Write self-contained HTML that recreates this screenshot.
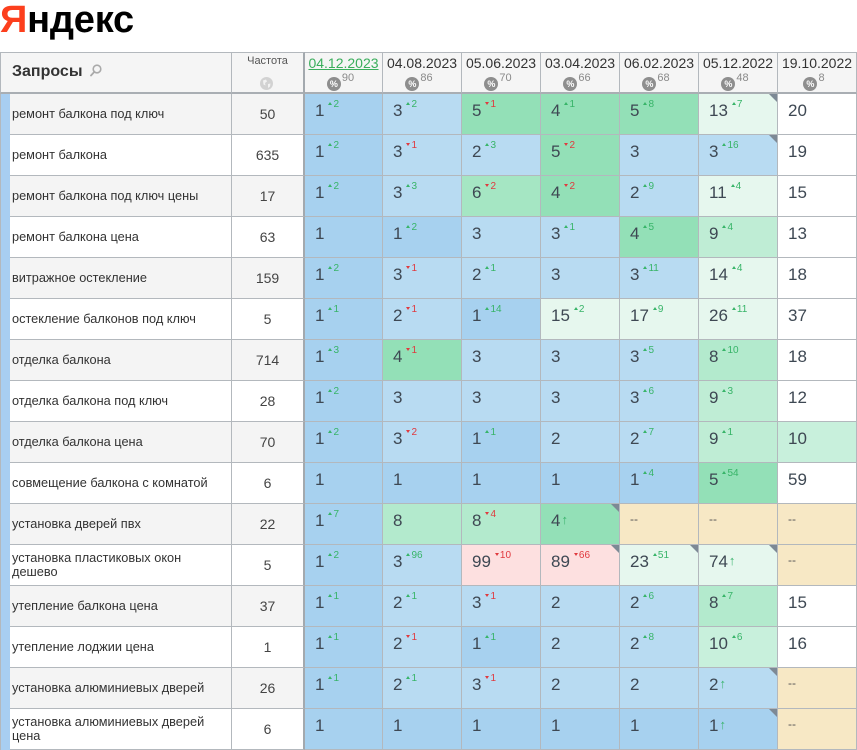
<!DOCTYPE html>
<html><head><meta charset="utf-8"><style>
html,body{margin:0;padding:0}
body{width:857px;height:750px;overflow:hidden;background:#fff;position:relative;font-family:"Liberation Sans","DejaVu Sans",sans-serif}
.logo{position:absolute;left:0;top:1px;font-size:38px;line-height:38px;font-weight:bold;color:#000;letter-spacing:-0.2px;white-space:nowrap}
.logo span{color:#fc3f1d}
.grid{position:absolute;left:0;top:52px;display:grid;grid-template-columns:232px 73px 78px repeat(6,79px);grid-template-rows:42px repeat(16,41px)}
.grid>div{box-sizing:border-box;border-right:1px solid #b3b8bd;border-bottom:1px solid #b3b8bd;position:relative;overflow:hidden}
.grid>div.h{background:#f5f5f5;border-top:1px solid #b3b8bd;border-bottom:2px solid #a9aeb3}
.q{border-left:1px solid #b3b8bd;padding-left:11px;font-size:12.75px;color:#333;display:flex;align-items:center;line-height:14px;white-space:nowrap}
.grid>div.f{border-right:2px solid #a3a9ae}
.f{text-align:center;font-size:14px;line-height:40px;color:#444}
.o{background:#f4f4f4}
.qh{position:absolute;left:11px;top:10px;font-size:16px;font-weight:bold;color:#333;line-height:18px;white-space:nowrap}
.qi{position:absolute;left:89px;top:11px;width:12px;height:13px}
.ft{position:absolute;left:0;right:0;top:2px;font-size:11px;line-height:13px;color:#555;text-align:center}
.gl{position:absolute;left:28px;top:24px;width:13px;height:13px}
.dh{text-align:center;font-size:14px;line-height:16px;color:#333;padding-top:2px}
.dh .t1{color:#3aae5c;text-decoration:underline}
.bdr{height:14px;margin-top:6px;line-height:14px;white-space:nowrap;padding-right:6px}
.bd{display:inline-block;width:14px;height:14px;border-radius:50%;background:#8e8e8e;color:#fff;font-size:9px;font-weight:bold;line-height:14px;text-align:center;vertical-align:top}
.bn{font-size:11px;color:#8a8a8a;position:relative;top:-6px;margin-left:1px;vertical-align:top}
.d{padding:4px 0 0 10px;font-size:17px;line-height:26px;color:#3e4853;white-space:nowrap}
.d i{font-style:normal;font-size:10px;position:relative;top:-9px;margin-left:4px}
.d i.u{color:#37b468}
.d i.r{color:#e0393e}
.d i.u::before{content:"";display:inline-block;width:0;height:0;border-left:2px solid transparent;border-right:2px solid transparent;border-bottom:3px solid #37b468;margin-right:1px;vertical-align:2px}
.d i.r::before{content:"";display:inline-block;width:0;height:0;border-left:2px solid transparent;border-right:2px solid transparent;border-top:3px solid #e0393e;margin-right:1px;vertical-align:2px}
.d b{font-weight:normal;font-size:13px;color:#3cb46e;position:relative;top:-2px;margin-left:1px}
.d s{text-decoration:none;font-size:12px;color:#555;position:relative;top:-3px}
.c::after{content:"";position:absolute;top:0;right:0;width:0;height:0;border-top:8px solid #7d8995;border-left:8px solid transparent}
.b1{background:#a7d1ef}
.b2{background:#b8dbf2}
.g4{background:#93e0b7}
.g6{background:#a5e6c3}
.g8{background:#b3eacd}
.g9{background:#bfedd5}
.g10{background:#c8f0dc}
.g11{background:#e6f7ee}
.pk{background:#fde0e0}
.be{background:#f7e8c5}
.w{background:#fff}
.strip{position:absolute;left:1px;top:94px;width:9px;height:656px;background:#a8cef1;z-index:3}
</style></head><body>
<div class="logo"><span>Я</span>ндекс</div>
<div class="strip"></div>
<div class="grid">
<div class="h q"><span class="qh">Запросы</span><svg class="qi" width="12" height="13" viewBox="0 0 12 13"><circle cx="7" cy="5" r="3.8" fill="none" stroke="#aaa" stroke-width="1.6"/><line x1="4.2" y1="8" x2="1" y2="11.5" stroke="#aaa" stroke-width="1.8" stroke-linecap="round"/></svg></div>
<div class="h f"><div class="ft">Частота</div><svg class="gl" width="13" height="13" viewBox="0 0 13 13"><circle cx="6.5" cy="6.5" r="6.5" fill="#d2d2d2"/><path d="M3 3.5 L6 2.5 L7 4.5 L5 6 L5.5 8.5 L3.5 7.5 Z M8 7 L10.5 6.5 L10 9.5 L8 11 Z" fill="#f2f2f2"/></svg></div>
<div class="h dh"><span class="t1">04.12.2023</span><div class="bdr"><span class="bd">%</span><span class="bn">90</span></div></div>
<div class="h dh">04.08.2023<div class="bdr"><span class="bd">%</span><span class="bn">86</span></div></div>
<div class="h dh">05.06.2023<div class="bdr"><span class="bd">%</span><span class="bn">70</span></div></div>
<div class="h dh">03.04.2023<div class="bdr"><span class="bd">%</span><span class="bn">66</span></div></div>
<div class="h dh">06.02.2023<div class="bdr"><span class="bd">%</span><span class="bn">68</span></div></div>
<div class="h dh">05.12.2022<div class="bdr"><span class="bd">%</span><span class="bn">48</span></div></div>
<div class="h dh">19.10.2022<div class="bdr"><span class="bd">%</span><span class="bn">8</span></div></div>

<div class="q o">ремонт балкона под ключ</div><div class="f o">50</div>
<div class="d b1">1<i class="u">2</i></div><div class="d b2">3<i class="u">2</i></div><div class="d g4">5<i class="r">1</i></div><div class="d g4">4<i class="u">1</i></div><div class="d g4">5<i class="u">8</i></div><div class="d g11 c">13<i class="u">7</i></div><div class="d w">20</div>

<div class="q">ремонт балкона</div><div class="f">635</div>
<div class="d b1">1<i class="u">2</i></div><div class="d b2">3<i class="r">1</i></div><div class="d b2">2<i class="u">3</i></div><div class="d g4">5<i class="r">2</i></div><div class="d b2">3</div><div class="d b2 c">3<i class="u">16</i></div><div class="d w">19</div>

<div class="q o">ремонт балкона под ключ цены</div><div class="f o">17</div>
<div class="d b1">1<i class="u">2</i></div><div class="d b2">3<i class="u">3</i></div><div class="d g6">6<i class="r">2</i></div><div class="d g4">4<i class="r">2</i></div><div class="d b2">2<i class="u">9</i></div><div class="d g11">11<i class="u">4</i></div><div class="d w">15</div>

<div class="q">ремонт балкона цена</div><div class="f">63</div>
<div class="d b1">1</div><div class="d b1">1<i class="u">2</i></div><div class="d b2">3</div><div class="d b2">3<i class="u">1</i></div><div class="d g4">4<i class="u">5</i></div><div class="d g9">9<i class="u">4</i></div><div class="d w">13</div>

<div class="q o">витражное остекление</div><div class="f o">159</div>
<div class="d b1">1<i class="u">2</i></div><div class="d b2">3<i class="r">1</i></div><div class="d b2">2<i class="u">1</i></div><div class="d b2">3</div><div class="d b2">3<i class="u">11</i></div><div class="d g11">14<i class="u">4</i></div><div class="d w">18</div>

<div class="q">остекление балконов под ключ</div><div class="f">5</div>
<div class="d b1">1<i class="u">1</i></div><div class="d b2">2<i class="r">1</i></div><div class="d b1">1<i class="u">14</i></div><div class="d g11">15<i class="u">2</i></div><div class="d g11">17<i class="u">9</i></div><div class="d g11">26<i class="u">11</i></div><div class="d w">37</div>

<div class="q o">отделка балкона</div><div class="f o">714</div>
<div class="d b1">1<i class="u">3</i></div><div class="d g4">4<i class="r">1</i></div><div class="d b2">3</div><div class="d b2">3</div><div class="d b2">3<i class="u">5</i></div><div class="d g8">8<i class="u">10</i></div><div class="d w">18</div>

<div class="q">отделка балкона под ключ</div><div class="f">28</div>
<div class="d b1">1<i class="u">2</i></div><div class="d b2">3</div><div class="d b2">3</div><div class="d b2">3</div><div class="d b2">3<i class="u">6</i></div><div class="d g9">9<i class="u">3</i></div><div class="d w">12</div>

<div class="q o">отделка балкона цена</div><div class="f o">70</div>
<div class="d b1">1<i class="u">2</i></div><div class="d b2">3<i class="r">2</i></div><div class="d b1">1<i class="u">1</i></div><div class="d b2">2</div><div class="d b2">2<i class="u">7</i></div><div class="d g9">9<i class="u">1</i></div><div class="d g10">10</div>

<div class="q">совмещение балкона с комнатой</div><div class="f">6</div>
<div class="d b1">1</div><div class="d b1">1</div><div class="d b1">1</div><div class="d b1">1</div><div class="d b1">1<i class="u">4</i></div><div class="d g4">5<i class="u">54</i></div><div class="d w">59</div>

<div class="q o">установка дверей пвх</div><div class="f o">22</div>
<div class="d b1">1<i class="u">7</i></div><div class="d g8">8</div><div class="d g8">8<i class="r">4</i></div><div class="d g4 c">4<b>↑</b></div><div class="d be"><s>--</s></div><div class="d be"><s>--</s></div><div class="d be"><s>--</s></div>

<div class="q">установка пластиковых окон<br>дешево</div><div class="f">5</div>
<div class="d b1">1<i class="u">2</i></div><div class="d b2">3<i class="u">96</i></div><div class="d pk">99<i class="r">10</i></div><div class="d pk c">89<i class="r">66</i></div><div class="d g11 c">23<i class="u">51</i></div><div class="d g11 c">74<b>↑</b></div><div class="d be"><s>--</s></div>

<div class="q o">утепление балкона цена</div><div class="f o">37</div>
<div class="d b1">1<i class="u">1</i></div><div class="d b2">2<i class="u">1</i></div><div class="d b2">3<i class="r">1</i></div><div class="d b2">2</div><div class="d b2">2<i class="u">6</i></div><div class="d g8">8<i class="u">7</i></div><div class="d w">15</div>

<div class="q">утепление лоджии цена</div><div class="f">1</div>
<div class="d b1">1<i class="u">1</i></div><div class="d b2">2<i class="r">1</i></div><div class="d b1">1<i class="u">1</i></div><div class="d b2">2</div><div class="d b2">2<i class="u">8</i></div><div class="d g10">10<i class="u">6</i></div><div class="d w">16</div>

<div class="q o">установка алюминиевых дверей</div><div class="f o">26</div>
<div class="d b1">1<i class="u">1</i></div><div class="d b2">2<i class="u">1</i></div><div class="d b2">3<i class="r">1</i></div><div class="d b2">2</div><div class="d b2">2</div><div class="d b2 c">2<b>↑</b></div><div class="d be"><s>--</s></div>

<div class="q">установка алюминиевых дверей<br>цена</div><div class="f">6</div>
<div class="d b1">1</div><div class="d b1">1</div><div class="d b1">1</div><div class="d b1">1</div><div class="d b1">1</div><div class="d b1 c">1<b>↑</b></div><div class="d be"><s>--</s></div>
</div>
</body></html>
